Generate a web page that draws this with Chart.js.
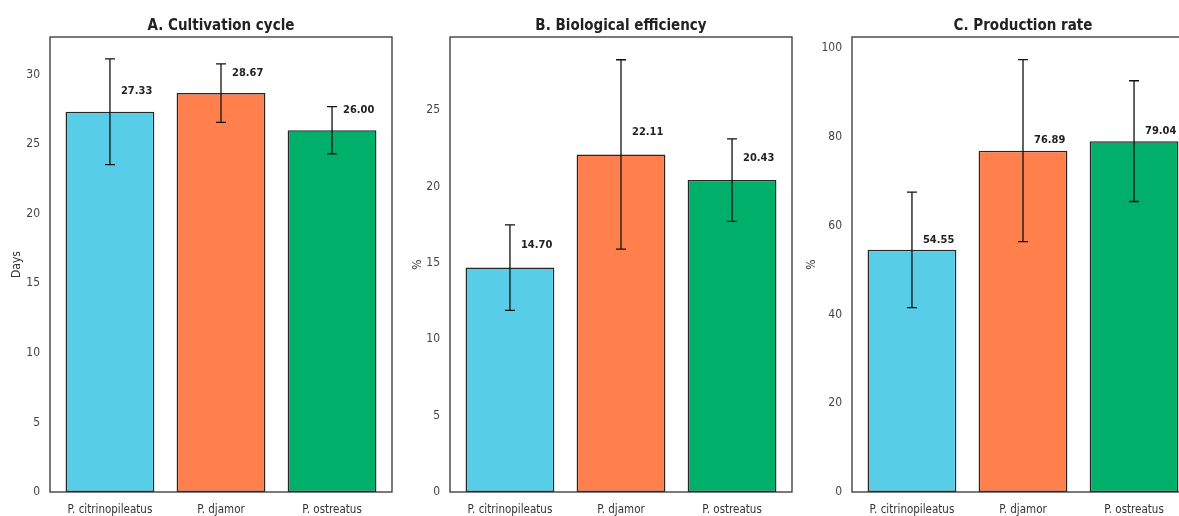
<!DOCTYPE html>
<html>
<head>
<meta charset="utf-8">
<script src="https://cdn.jsdelivr.net/npm/chart.js@4.4.1/dist/chart.umd.min.js"></script>
<style>
    html, body { margin: 0; padding: 0; background: #fff; }
    body { width: 1179px; height: 516px; overflow: hidden; position: relative; }
    canvas { position: absolute; top: 0; }
</style>
</head>
<body>
<canvas id="chartA" width="400" height="516" style="left:0px"></canvas>
<canvas id="chartB" width="400" height="516" style="left:400px"></canvas>
<canvas id="chartC" width="400" height="516" style="left:800px"></canvas>
<script>
// data
const categories = ["P. citrinopileatus", "P. djamor", "P. ostreatus"];
const barColors = ["#57CDE8", "#FF7F4D", "#00B06A"];

const cycleDays = [27.33, 28.67, 26.00];
const cycleErr = [3.8, 2.1, 1.7];

const bioEfficiency = [14.70, 22.11, 20.43];
const bioErr = [2.8, 6.2, 2.7];

const prodRate = [54.55, 76.89, 79.04];
const prodErr = [13.0, 20.5, 13.6];

const panelTitles = ["A. Cultivation cycle", "B. Biological efficiency", "C. Production rate"];
const yLabels = ["Days", "%", "%"];
const yMax = [32.7, 29.8, 102.5];
const yStep = [5, 5, 20];

const FONT = "'DejaVu Sans Condensed', 'Liberation Sans Narrow', 'DejaVu Sans', sans-serif";

// helper plugin: frame, title, error bars, value labels
const panelDecor = {
    id: "panelDecor",
    afterDatasetsDraw(chart, args, opts) {
        const ctx = chart.ctx;
        const area = chart.chartArea;
        const xs = chart.scales.x;
        const ys = chart.scales.y;
        const values = opts.values;

        ctx.save();
        // error bars
        ctx.strokeStyle = "#111";
        ctx.lineWidth = 1.3;
        values.forEach((v, i) => {
            const e = opts.errors[i];
            const x = xs.getPixelForValue(i);
            const top = ys.getPixelForValue(v + e);
            const bot = ys.getPixelForValue(v - e);
            ctx.beginPath();
            ctx.moveTo(x, top); ctx.lineTo(x, bot);
            ctx.moveTo(x - 5, top); ctx.lineTo(x + 5, top);
            ctx.moveTo(x - 5, bot); ctx.lineTo(x + 5, bot);
            ctx.stroke();
        });

        // value labels
        ctx.fillStyle = "#222";
        ctx.font = "bold 11px " + FONT;
        ctx.textAlign = "center";
        ctx.textBaseline = "middle";
        values.forEach((v, i) => {
            const x = xs.getPixelForValue(i + 0.24);
            const y = ys.getPixelForValue(v + opts.labelLift);
            ctx.fillText(v.toFixed(2), x, y);
        });

        // frame
        ctx.strokeStyle = "#333";
        ctx.lineWidth = 1.3;
        ctx.strokeRect(area.left, area.top, area.right - area.left, area.bottom - area.top);

        // title
        ctx.fillStyle = "#222";
        ctx.font = "bold 15px " + FONT;
        ctx.textBaseline = "alphabetic";
        ctx.fillText(opts.title, (area.left + area.right) / 2, 30);
        ctx.restore();
    }
};

function createPanel(canvasId, idx, values, errors, chartLeft, padRight, titlePad, labelLift) {
    const ctx = document.getElementById(canvasId).getContext("2d");
    return new Chart(ctx, {
        type: "bar",
        data: {
            datasets: [{
                data: values.map((v, i) => ({ x: i, y: v })),
                backgroundColor: barColors,
                borderColor: "#262626",
                borderWidth: 1.5,
                borderSkipped: false,
                barPercentage: 0.8,
                categoryPercentage: 1
            }]
        },
        options: {
            responsive: false,
            animation: false,
            events: [],
            layout: { padding: { top: 37, right: padRight, bottom: 0, left: 0 } },
            plugins: {
                legend: { display: false },
                tooltip: { enabled: false },
                panelDecor: { values: values, errors: errors, title: panelTitles[idx], labelLift: labelLift }
            },
            scales: {
                x: {
                    type: "linear",
                    offset: false,
                    min: -0.54,
                    max: 2.54,
                    grid: { display: false, drawTicks: false },
                    border: { display: false },
                    afterBuildTicks: (scale) => {
                        scale.ticks = categories.map((c, i) => ({ value: i }));
                    },
                    afterFit: (scale) => { scale.height = 24; },
                    ticks: {
                        autoSkip: false,
                        maxRotation: 0,
                        padding: 11,
                        color: "#333",
                        font: { family: FONT, size: 11.5 },
                        callback: (v) => categories[v]
                    }
                },
                y: {
                    min: 0,
                    max: yMax[idx],
                    grid: { display: false, drawTicks: false },
                    border: { display: false },
                    afterFit: (scale) => { scale.width = chartLeft; },
                    title: {
                        display: true,
                        text: yLabels[idx],
                        color: "#333",
                        padding: { top: titlePad, bottom: 0 },
                        font: { family: FONT, size: 12 }
                    },
                    ticks: {
                        stepSize: yStep[idx],
                        includeBounds: false,
                        padding: 10,
                        color: "#444",
                        font: { family: FONT, size: 12 }
                    }
                }
            }
        },
        plugins: [panelDecor]
    });
}

createPanel("chartA", 0, cycleDays, cycleErr, 50, 8, 10, 1.45);
createPanel("chartB", 1, bioEfficiency, bioErr, 50, 8, 11, 1.45);
createPanel("chartC", 2, prodRate, prodErr, 52, 6, 5, 2.3);
</script>
</body>
</html>
